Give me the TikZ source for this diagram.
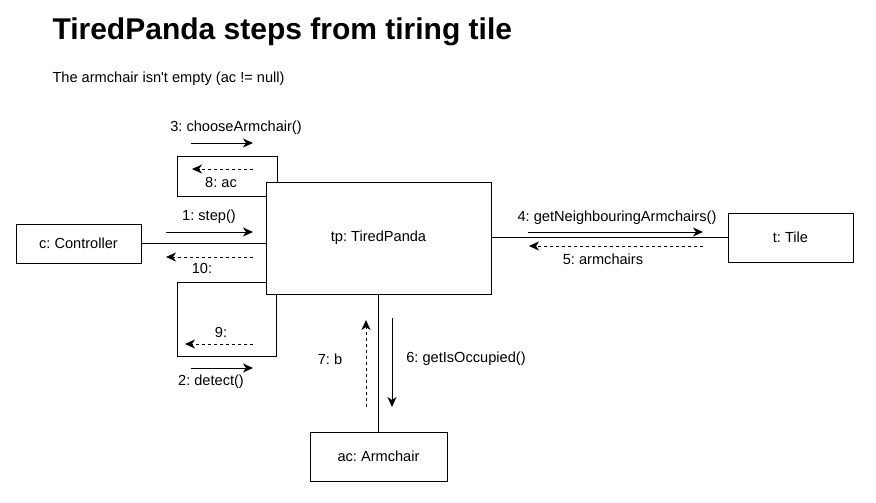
\documentclass[tikz,border=0pt]{standalone}
\usepackage{fontspec}
\setmainfont{Liberation Sans}
\usetikzlibrary{positioning,arrows.meta}
\frenchspacing

\begin{document}
\begin{tikzpicture}[x=1pt,y=-1pt,line width=1pt,
                    font=\fontsize{14.6}{17}\selectfont,
                    obj/.style={draw,inner sep=0pt},
                    call/.style={-{Stealth[length=10pt,width=9pt,inset=3pt]}},
                    ret/.style={call,dash pattern=on 3pt off 3pt}]
  \useasboundingbox (0,0) rectangle (876,503);

  % Title
  \node[anchor=base west,inner sep=0pt,font=\fontsize{30}{34}\selectfont\bfseries] (title) at (52,40) {TiredPanda steps from tiring tile};
  \node[anchor=base west,inner sep=0pt] (cond) at (52,82) {The armchair isn\textquotesingle t empty (ac != null)};

  % Objects
  \node[obj,minimum width=125pt,minimum height=39pt] (c) at (78.5,243.5) {c: Controller};
  \node[obj,minimum width=225pt,minimum height=112pt] (tp) at (378.5,238) {tp: TiredPanda};
  \node[obj,minimum width=125pt,minimum height=49pt] (t) at (790.5,237.5) {t: Tile};
  \node[obj,minimum width=137pt,minimum height=49pt] (ac) at (378.5,456.5) {ac: Armchair};

  % Links
  \draw (c) -- (c -| tp.west);
  \draw (tp.east |- 0,237) -- (t.west |- 0,237);
  \draw (tp.south) -- (ac.north);
  \draw ([yshift=-15pt]tp.north west) -| ++(-88,-40) -| ([xshift=12pt]tp.north west);
  \draw ([yshift=12pt]tp.south west) -| ++(-88,74) -| ([xshift=11pt]tp.south west);

  % Messages on the upper self link
  \coordinate (m3a) at (191,143);
  \coordinate (m3b) at (253,143);
  \draw[call] (m3a) -- (m3b);
  \node (l3) at (236,128) {3: chooseArmchair()};
  \coordinate (m8a) at (253,169);
  \coordinate (m8b) at (192,169);
  \draw[ret] (m8a) -- (m8b);
  \node (l8) at (221,182) {8: ac};

  % Messages between c and tp
  \coordinate (m1a) at (166,232);
  \coordinate (m1b) at (253,232);
  \draw[call] (m1a) -- (m1b);
  \node (l1) at (209,217) {1: step()};
  \coordinate (m10a) at (253,257);
  \coordinate (m10b) at (166,257);
  \draw[ret] (m10a) -- (m10b);
  \node (l10) at (202,268) {10:};

  % Messages on the lower self link
  \coordinate (m9a) at (253,344);
  \coordinate (m9b) at (185,344);
  \draw[ret] (m9a) -- (m9b);
  \node (l9) at (221,332) {9:};
  \coordinate (m2a) at (191,368);
  \coordinate (m2b) at (253,368);
  \draw[call] (m2a) -- (m2b);
  \node (l2) at (211,382) {2: detect()};

  % Messages between tp and t
  \coordinate (m4a) at (528,232);
  \coordinate (m4b) at (703,232);
  \draw[call] (m4a) -- (m4b);
  \node (l4) at (617,218) {4: getNeighbouringArmchairs()};
  \coordinate (m5a) at (703,246);
  \coordinate (m5b) at (529,246);
  \draw[ret] (m5a) -- (m5b);
  \node (l5) at (603,259) {5: armchairs};

  % Messages between tp and ac
  \coordinate (m6a) at (392,318);
  \coordinate (m6b) at (392,407);
  \draw[call] (m6a) -- (m6b);
  \node (l6) at (466,359) {6: getIsOccupied()};
  \coordinate (m7a) at (366,407);
  \coordinate (m7b) at (366,320);
  \draw[ret] (m7a) -- (m7b);
  \node (l7) at (330,359) {7: b};
\end{tikzpicture}
\end{document}
